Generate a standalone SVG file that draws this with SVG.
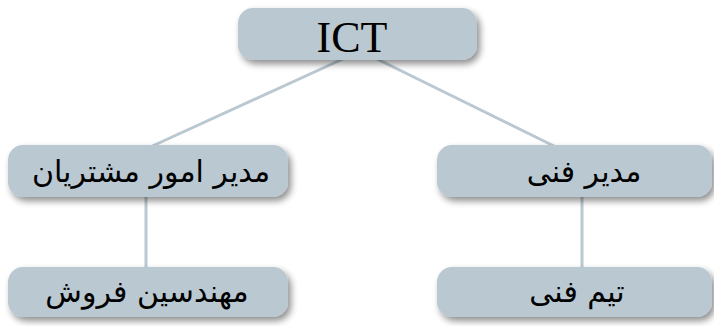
<svg xmlns="http://www.w3.org/2000/svg" width="714" height="326" viewBox="0 0 714 326">
  <defs>
    <filter id="shadow" x="-10%" y="-30%" width="125%" height="170%">
      <feGaussianBlur in="SourceAlpha" stdDeviation="3.5"/>
      <feOffset dx="3" dy="4" result="b"/>
      <feComponentTransfer><feFuncA type="linear" slope="0.45"/></feComponentTransfer>
      <feMerge><feMergeNode/><feMergeNode in="SourceGraphic"/></feMerge>
    </filter>
  </defs>
  <style>
    .box { fill: #b9c8d1; filter: url(#shadow); }
    .link { stroke: #b9c8d1; stroke-width: 3; fill: none; }
    .fa { font-family: "DejaVu Sans", sans-serif; font-size: 30px; fill: #000; text-anchor: middle; direction: rtl; }
    .en { font-family: "Liberation Serif", serif; font-size: 44px; fill: #000; text-anchor: middle; }
  </style>
  <g id="connectors">
    <line class="link" x1="345" y1="58" x2="148" y2="148"/>
    <line class="link" x1="375" y1="58" x2="558" y2="148"/>
    <line class="link" x1="146" y1="195" x2="146" y2="269"/>
    <line class="link" x1="582" y1="195" x2="582" y2="269"/>
  </g>
  <g id="node-ict">
    <rect class="box" x="238" y="8" width="239" height="52" rx="15"/>
    <text class="en" x="352" y="52">ICT</text>
  </g>
  <g id="node-customer-affairs">
    <rect class="box" x="8" y="145" width="280" height="52" rx="15"/>
    <text class="fa" x="151" y="182">مدیر امور مشتریان</text>
  </g>
  <g id="node-technical-manager">
    <rect class="box" x="437" y="145" width="275" height="52" rx="15"/>
    <text class="fa" x="584" y="182">مدیر فنی</text>
  </g>
  <g id="node-sales-engineers">
    <rect class="box" x="8" y="267" width="280" height="50" rx="15"/>
    <text class="fa" x="147" y="302">مهندسین فروش</text>
  </g>
  <g id="node-technical-team">
    <rect class="box" x="437" y="267" width="275" height="50" rx="15"/>
    <text class="fa" x="577" y="302">تیم فنی</text>
  </g>
</svg>
